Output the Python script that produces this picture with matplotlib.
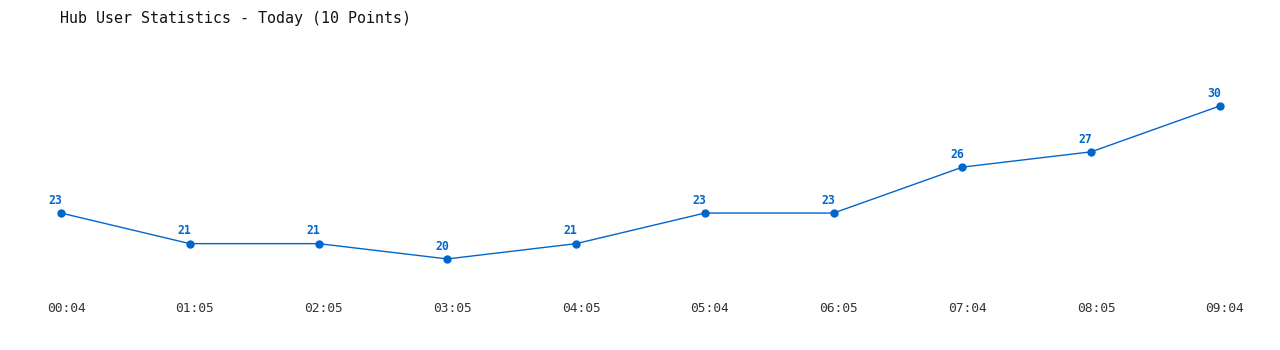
import matplotlib.pyplot as plt
import matplotlib.transforms as mtransforms

times = ["00:04", "01:05", "02:05", "03:05", "04:05", "05:04", "06:05", "07:04", "08:05", "09:04"]
users = [23, 21, 21, 20, 21, 23, 23, 26, 27, 30]

blue = "#0066CC"
mono = "DejaVu Sans Mono"

fig = plt.figure(figsize=(12.8, 3.5), dpi=100)
# axes placed so the first and last points sit at x=61 and x=1220 px
ax = fig.add_axes([61 / 1280, 60 / 350, 1159 / 1280, 230 / 350])

x = list(range(len(users)))
ax.plot(x, users, color=blue, lw=1, marker="o", ms=5, clip_on=False)

for i, v in zip(x, users):
    ax.annotate(str(v), (i, v), xytext=(-4, 4.5), textcoords="offset points",
                ha="center", va="bottom", color=blue, fontsize=8.3,
                fontweight="bold", family=mono)

ax.set_xlim(0, 9)
ax.set_ylim(17.97, 33.0)
ax.set_xticks(x)
ax.set_xticklabels(times, family=mono, fontsize=9.3, color="#333333")
ax.tick_params(axis="x", length=0, pad=8.5)
# labels sit a few pixels right of the points in the original
shift = mtransforms.ScaledTranslation(5 / 100, 0, fig.dpi_scale_trans)
for lbl in ax.get_xticklabels():
    lbl.set_transform(lbl.get_transform() + shift)
ax.set_yticks([])
for s in ax.spines.values():
    s.set_visible(False)

fig.text(60 / 1280, 1 - 18 / 350, "Hub User Statistics - Today (10 Points)",
         family=mono, fontsize=10.8, color="#111111", va="center", ha="left")

fig.savefig("out.png", dpi=100)
